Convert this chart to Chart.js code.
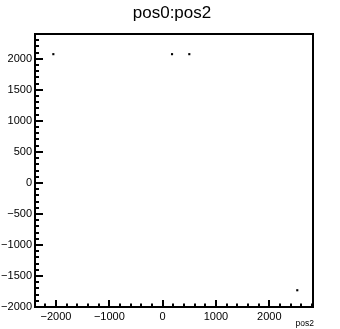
<!DOCTYPE html>
<html>
<head>
<meta charset="utf-8">
<script src="https://cdn.jsdelivr.net/npm/chart.js@4/dist/chart.umd.min.js"></script>
<style>
html,body{margin:0;padding:0;background:#fff;}
#wrap{width:340px;height:329px;position:relative;}
</style>
</head>
<body>
<div id="wrap"><canvas id="c" width="340" height="329"></canvas></div>
<script>
// data
const pos2 = [-2050, 176, 500, 2525];
const pos0 = [2075, 2075, 2075, -1730];
const xTicks = [-2000, -1000, 0, 1000, 2000];
const yTicks = [-2000, -1500, -1000, -500, 0, 500, 1000, 1500, 2000];
const xRange = [-2394, 2820];
const yRange = [-2000, 2400];
const titleText = 'pos0:pos2';
const xTitle = 'pos2';

const points = pos2.map((x, i) => ({x: x, y: pos0[i]}));
const FONT = '"Liberation Sans", Arial, sans-serif';

const framePlugin = {
  id: 'frame',
  afterDraw(chart) {
    const ctx = chart.ctx, a = chart.chartArea;
    const xs = chart.scales.x, ys = chart.scales.y;
    ctx.save();
    ctx.strokeStyle = '#000';
    ctx.lineWidth = 2;
    ctx.strokeRect(a.left, a.top, a.right - a.left, a.bottom - a.top);
    ctx.lineWidth = 2;
    ctx.beginPath();
    // x ticks: major 1000, minor 200
    for (let v = -2400; v <= xRange[1]; v += 200) {
      if (v < xRange[0]) continue;
      const px = Math.round(xs.getPixelForValue(v));
      const len = (v % 1000 === 0) ? 7 : 3.5;
      ctx.moveTo(px, a.bottom);
      ctx.lineTo(px, a.bottom - len);
    }
    // y ticks: major 500, minor 100
    for (let v = yRange[0]; v <= yRange[1]; v += 100) {
      const py = Math.round(ys.getPixelForValue(v));
      const len = (v % 500 === 0) ? 8 : 4;
      ctx.moveTo(a.left, py);
      ctx.lineTo(a.left + len, py);
    }
    ctx.stroke();
    ctx.fillStyle = '#000';
    ctx.font = '17px ' + FONT;
    ctx.textAlign = 'center';
    ctx.textBaseline = 'middle';
    ctx.fillText(titleText, 172, 13);
    ctx.font = '8.5px ' + FONT;
    ctx.textAlign = 'right';
    ctx.fillText(xTitle, 314, 324);
    ctx.restore();
  }
};

const fmt = v => String(v).replace('-', '\u2212');

new Chart(document.getElementById('c'), {
  type: 'scatter',
  data: {
    datasets: [{
      data: points,
      pointStyle: 'rect',
      pointRadius: 1.5,
      pointHoverRadius: 1.5,
      borderWidth: 0,
      backgroundColor: '#000'
    }]
  },
  options: {
    responsive: false,
    animation: false,
    events: [],
    layout: {padding: {top: 34, right: 27, left: 0, bottom: 0}},
    plugins: {legend: {display: false}, tooltip: {enabled: false}, title: {display: false}},
    scales: {
      x: {
        type: 'linear', min: xRange[0], max: xRange[1],
        grid: {display: false, drawTicks: false},
        border: {display: false},
        afterBuildTicks: s => { s.ticks = xTicks.map(v => ({value: v})); },
        afterFit: s => { s.height = 22; },
        ticks: {color: '#000', padding: 3, maxRotation: 0, autoSkip: false,
          font: {family: FONT, size: 11}, callback: v => fmt(v)}
      },
      y: {
        type: 'linear', min: yRange[0], max: yRange[1],
        grid: {display: false, drawTicks: false},
        border: {display: false},
        afterBuildTicks: s => { s.ticks = yTicks.map(v => ({value: v})); },
        afterFit: s => { s.width = 35; },
        ticks: {color: '#000', padding: 3, autoSkip: false,
          font: {family: FONT, size: 11}, callback: v => fmt(v)}
      }
    }
  },
  plugins: [framePlugin]
});
</script>
</body>
</html>
